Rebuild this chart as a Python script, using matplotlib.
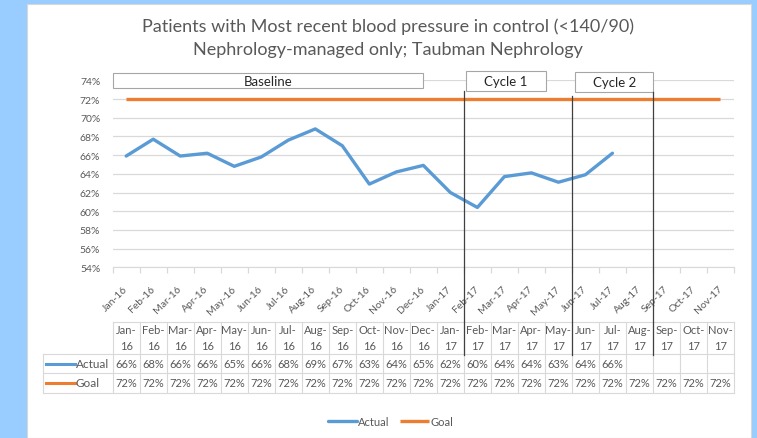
import matplotlib
matplotlib.use("Agg")
import matplotlib.pyplot as plt
from matplotlib.patches import Rectangle
from matplotlib.lines import Line2D
import matplotlib.transforms as mtransforms

plt.rcParams['font.family'] = ['Lato', 'DejaVu Sans']

# ---------------- data ----------------
months = ["Jan-16", "Feb-16", "Mar-16", "Apr-16", "May-16", "Jun-16", "Jul-16",
          "Aug-16", "Sep-16", "Oct-16", "Nov-16", "Dec-16", "Jan-17", "Feb-17",
          "Mar-17", "Apr-17", "May-17", "Jun-17", "Jul-17", "Aug-17", "Sep-17",
          "Oct-17", "Nov-17"]
actual = [65.9, 67.7, 65.9, 66.2, 64.8, 65.8, 67.6, 68.8, 67.0, 62.9, 64.2,
          64.9, 62.0, 60.4, 63.7, 64.1, 63.1, 63.9, 66.2]
goal = [72, 72, 72, 72, 72, 72, 72, 72, 72, 72, 72, 72, 72, 72, 72, 72, 72,
        72, 72, 72, 72, 72, 72]
yticks = [54, 56, 58, 60, 62, 64, 66, 68, 70, 72, 74]
cycle_starts = ["Feb-17", "Jun-17", "Sep-17"]
title_lines = ["Patients with Most recent blood pressure in control (<140/90)",
               "Nephrology-managed only; Taubman Nephrology"]
series_names = ["Actual", "Goal"]

# ---------------- style ----------------
W, H = 757, 439
BLUE = "#5B9BD5"
ORANGE = "#ED7D31"
GREY_TXT = "#595959"
GRID = "#D9D9D9"

fig = plt.figure(figsize=(W / 100, H / 100), dpi=100)
fig.patch.set_facecolor("#99CCFF")

def fy(ypx):
    return 1 - ypx / H

def fx(xpx):
    return xpx / W

# white panel
fig.add_artist(Rectangle((fx(27), 0), fx(751) - fx(27), fy(4.5), transform=fig.transFigure,
                         facecolor="white", edgecolor="#D8D8D8", lw=0.8, zorder=0))

# title
fig.text(fx(388), fy(27), title_lines[0], ha="center", va="center", fontsize=13, color=GREY_TXT)
fig.text(fx(388), fy(50), title_lines[1], ha="center", va="center", fontsize=13, color=GREY_TXT)

# main axes
L, R, T, B = 112.7, 734.0, 81.3, 268.3
ax = fig.add_axes([fx(L), fy(B), fx(R) - fx(L), fy(T) - fy(B)])
ax.set_facecolor("none")
n = len(months)
x = list(range(n))
line_goal, = ax.plot(x[:len(goal)], goal, color=ORANGE, lw=2.4, solid_capstyle="butt", zorder=3, label=series_names[1])
line_act, = ax.plot(x[:len(actual)], actual, color=BLUE, lw=2.4, solid_capstyle="round", zorder=4, label=series_names[0])
ax.set_xlim(-0.5, n - 0.5)
ax.set_ylim(yticks[0], yticks[-1])
ax.set_yticks(yticks)
ax.set_yticklabels([f"{v}%" for v in yticks])
ax.yaxis.grid(True, color=GRID, lw=0.9)
ax.set_axisbelow(True)
for s in ["top", "right", "left"]:
    ax.spines[s].set_visible(False)
ax.spines["bottom"].set_color(GRID)
ax.tick_params(axis="y", length=0, pad=9, labelsize=7.5, labelcolor=GREY_TXT)
ax.set_xticks(x)
ax.set_xticklabels(months, rotation=45, ha="right", va="center", rotation_mode="anchor")
ax.tick_params(axis="x", length=0, pad=14, labelsize=7.5, labelcolor=GREY_TXT)
ax.set_xticks([i - 0.5 for i in range(n + 1)], minor=True)
ax.tick_params(axis="x", which="minor", length=4, color=GRID, width=0.9)

tr = mtransforms.blended_transform_factory(ax.transData, fig.transFigure)

# phase boxes
boxes = [("Baseline", -0.5, 11.0, 74, 89.3),
         ("Cycle 1", 12.58, 15.54, 72.3, 92.3),
         ("Cycle 2", 16.62, 19.51, 73, 93)]
for label, x0, x1, y0, y1 in boxes:
    fig.add_artist(Rectangle((x0, fy(y1)), x1 - x0, fy(y0) - fy(y1), transform=tr,
                             facecolor="white", edgecolor="#A6A6A6", lw=0.8, zorder=5))
    fig.text((x0 + x1) / 2, fy((y0 + y1) / 2), label, transform=tr, ha="center", va="center",
             fontsize=9.5, color="#262626", zorder=6)

# cycle dividers
div_top = [92, 97, 93]
for m, yt in zip(cycle_starts, div_top):
    xb = months.index(m) - 0.5
    fig.add_artist(Line2D([xb, xb], [fy(yt), fy(356)], transform=tr, color="#404040", lw=0.9, zorder=6))

# ---------------- data table ----------------
t_top, t_hdr, t_row1, t_row2 = 323, 355, 374, 394
lab_left = 42.7
trp = mtransforms.blended_transform_factory(fig.transFigure, fig.transFigure)
lc = GRID
fig.add_artist(Line2D([-0.5, n - 0.5], [fy(t_top)] * 2, transform=tr, color=lc, lw=0.8))
for yy in (t_hdr, t_row1, t_row2):
    fig.add_artist(Line2D([fx(lab_left), fx(R)], [fy(yy)] * 2, transform=trp, color=lc, lw=0.8))
for i in range(n + 1):
    fig.add_artist(Line2D([i - 0.5, i - 0.5], [fy(t_top), fy(t_row2)], transform=tr, color=lc, lw=0.8))
fig.add_artist(Line2D([fx(lab_left)] * 2, [fy(t_hdr), fy(t_row2)], transform=trp, color=lc, lw=0.8))

TFS = 8
for i, m in enumerate(months):
    a, b = m.split("-")
    fig.text(i, fy(331), a + "-", transform=tr, ha="center", va="center", fontsize=TFS, color=GREY_TXT)
    fig.text(i, fy(347), b, transform=tr, ha="center", va="center", fontsize=TFS, color=GREY_TXT)
y_act = (t_hdr + t_row1) / 2
y_goal = (t_row1 + t_row2) / 2
for i, v in enumerate(actual):
    fig.text(i, fy(y_act), f"{round(v)}%", transform=tr, ha="center", va="center", fontsize=TFS, color=GREY_TXT)
for i, v in enumerate(goal):
    fig.text(i, fy(y_goal), f"{round(v)}%", transform=tr, ha="center", va="center", fontsize=TFS, color=GREY_TXT)

for yy, col, name in ((y_act, BLUE, series_names[0]), (y_goal, ORANGE, series_names[1])):
    fig.add_artist(Line2D([fx(46), fx(75)], [fy(yy)] * 2, transform=trp, color=col, lw=2.2))
    fig.text(fx(75.5), fy(yy), name, ha="left", va="center", fontsize=8.5, color=GREY_TXT)

# legend
fig.legend(handles=[line_act, line_goal], labels=series_names, loc="center",
           bbox_to_anchor=(fx(390.5), fy(422.7)), ncol=2, frameon=False, fontsize=8,
           handlelength=2.6, handletextpad=0.1, columnspacing=1.0, labelcolor=GREY_TXT)

fig.savefig("out.png", dpi=100, facecolor=fig.get_facecolor())
